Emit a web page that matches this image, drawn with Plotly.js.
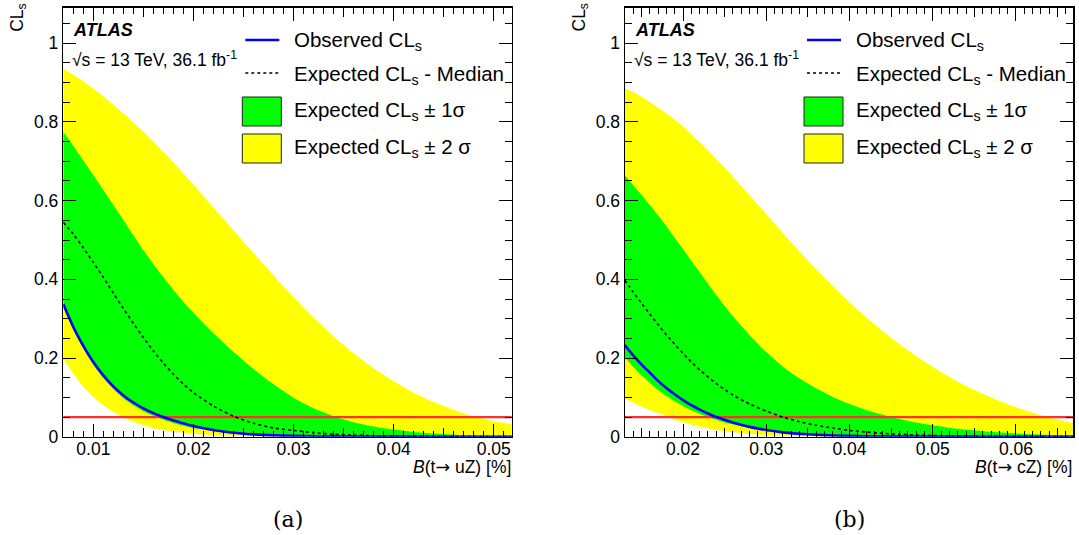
<!DOCTYPE html>
<html><head><meta charset="utf-8">
<script src="https://cdn.plot.ly/plotly-3.0.1.min.js"></script>
<style>html,body{margin:0;padding:0;background:#fff}#chart{width:1079px;height:535px}</style>
</head><body><div id="chart"></div>
<script>
// ---------- Panel (a): B(t -> uZ) ----------
const xA = [0.007,0.008,0.009,0.010,0.011,0.012,0.013,0.014,0.015,0.016,0.017,0.018,0.019,0.020,0.022,0.024,0.026,0.028,0.030,0.032,0.034,0.036,0.038,0.040,0.042,0.044,0.046,0.048,0.050,0.052];
const obsA = [0.337,0.279,0.231,0.190,0.156,0.128,0.105,0.087,0.072,0.060,0.050,0.041,0.034,0.027,0.017,0.010,0.006,0.0035,0.002,0.0012,0.0007,0.0004,0.0002,0.0001,0.0001,0,0,0,0,0];
const medA = [0.545,0.515,0.480,0.443,0.405,0.365,0.326,0.288,0.252,0.218,0.187,0.159,0.134,0.112,0.078,0.052,0.034,0.022,0.016,0.010,0.0065,0.004,0.0025,0.0015,0.0009,0.0005,0.0003,0.0002,0.0001,0.0001];
const s1upA = [0.775,0.739,0.702,0.665,0.627,0.589,0.551,0.512,0.474,0.439,0.405,0.373,0.343,0.315,0.263,0.216,0.172,0.133,0.099,0.072,0.052,0.037,0.026,0.018,0.012,0.008,0.005,0.003,0.002,0.001];
const s1loA = [0.330,0.272,0.224,0.183,0.149,0.121,0.098,0.080,0.065,0.053,0.043,0.035,0.028,0.022,0.014,0.008,0.0045,0.0025,0.0014,0.0008,0.0004,0.0002,0.0001,0,0,0,0,0,0,0];
const s2upA = [0.935,0.920,0.903,0.885,0.865,0.844,0.822,0.799,0.775,0.750,0.724,0.697,0.669,0.641,0.583,0.525,0.467,0.410,0.355,0.303,0.255,0.212,0.174,0.141,0.112,0.088,0.068,0.052,0.039,0.029];
const s2loA = [0.198,0.160,0.127,0.101,0.080,0.063,0.049,0.038,0.029,0.022,0.017,0.013,0.010,0.0075,0.004,0.002,0.001,0.0005,0.0002,0.0001,0,0,0,0,0,0,0,0,0,0];

// ---------- Panel (b): B(t -> cZ) ----------
const xB = [0.013,0.014,0.015,0.016,0.017,0.018,0.019,0.020,0.021,0.022,0.023,0.024,0.025,0.026,0.028,0.030,0.032,0.034,0.036,0.038,0.040,0.042,0.044,0.046,0.048,0.050,0.052,0.054,0.056,0.058,0.060,0.062,0.064,0.066,0.067];
const obsB = [0.233,0.207,0.184,0.163,0.142,0.124,0.108,0.093,0.080,0.069,0.059,0.050,0.043,0.036,0.025,0.017,0.011,0.0075,0.005,0.0032,0.002,0.0013,0.0008,0.0005,0.0003,0.0002,0.0001,0.0001,0,0,0,0,0,0,0];
const medB = [0.398,0.368,0.340,0.312,0.285,0.259,0.235,0.212,0.190,0.170,0.152,0.135,0.120,0.106,0.083,0.065,0.050,0.038,0.029,0.022,0.016,0.012,0.0085,0.006,0.0042,0.003,0.002,0.0014,0.001,0.0007,0.0005,0.0003,0.0002,0.0001,0.0001];
const s1upB = [0.665,0.640,0.615,0.589,0.563,0.535,0.506,0.477,0.447,0.418,0.389,0.360,0.332,0.306,0.258,0.215,0.178,0.148,0.123,0.101,0.083,0.068,0.056,0.045,0.036,0.029,0.023,0.018,0.014,0.011,0.008,0.006,0.0045,0.0033,0.003];
const s1loB = [0.203,0.178,0.156,0.137,0.119,0.104,0.090,0.078,0.067,0.058,0.050,0.043,0.036,0.031,0.022,0.015,0.010,0.007,0.0045,0.003,0.002,0.0013,0.0008,0.0005,0.0003,0.0002,0.0001,0,0,0,0,0,0,0,0];
const s2upB = [0.886,0.876,0.864,0.851,0.837,0.822,0.806,0.788,0.769,0.749,0.728,0.706,0.684,0.661,0.614,0.566,0.518,0.471,0.426,0.383,0.342,0.304,0.268,0.235,0.205,0.177,0.152,0.129,0.109,0.091,0.075,0.061,0.049,0.038,0.033];
const s2loB = [0.097,0.087,0.077,0.068,0.060,0.052,0.044,0.037,0.031,0.026,0.021,0.017,0.014,0.011,0.007,0.004,0.0025,0.0015,0.001,0.0006,0.0004,0.0002,0.0001,0,0,0,0,0,0,0,0,0,0,0,0];

const cl95 = 0.05;
const xRangeA = [0.007, 0.0518];
const xRangeB = [0.01303, 0.06685];
const yRange = [0, 1.09];

const ARROW = '<span style="font-family:DejaVu Sans">\u2192</span>';
const panelTitles = ["<i>B</i>(t" + ARROW + " uZ) [%]", "<i>B</i>(t" + ARROW + " cZ) [%]"];
const captions = ["(a)", "(b)"];
const legendLabels = ["Observed CL<sub>s</sub>", "Expected CL<sub>s</sub> - Median", "Expected CL<sub>s</sub> \u00b1 1\u03c3", "Expected CL<sub>s</sub> \u00b1 2 \u03c3"];

const W = 1079, H = 535;
const P = px => px / W;
const Q = py => 1 - py / H;
const FONT = "Liberation Sans, Arial, Helvetica, sans-serif";
const YEL = "#ffff00", GRN = "#00ff00", BLU = "#0000ff", RED = "#ff3030";

function band(x, up, lo, color, xa, ya) {
  return {x: x.concat(x.slice().reverse()), y: up.concat(lo.slice().reverse()),
    mode: "lines", fill: "toself", fillcolor: color, line: {color: "rgba(0,0,0,0)", width: 0, shape: "spline", smoothing: 0.5},
    xaxis: xa, yaxis: ya, hoverinfo: "skip", showlegend: false};
}
function line(x, y, color, width, dash, xa, ya) {
  return {x: x, y: y, mode: "lines", line: {color: color, width: width, dash: dash, shape: "spline", smoothing: 0.6},
    xaxis: xa, yaxis: ya, hoverinfo: "skip", showlegend: false};
}

const traces = [];
function panel(x, s2u, s2l, s1u, s1l, med, obs, xa, ya, xov) {
  traces.push(band(x, s2u, s2l, YEL, xa, ya));
  traces.push(band(x, s1u, s1l, GRN, xa, ya));
  traces.push({x: [x[0], x[x.length - 1]], y: [cl95, cl95], mode: "lines", line: {color: RED, width: 2.2},
    xaxis: xa, yaxis: ya, hoverinfo: "skip", showlegend: false});
  traces.push(line(x, med, "#000", 1.6, "dot", xa, ya));
  traces.push(line(x, obs, BLU, 2.6, "solid", xa, ya));
  traces.push({x: [null], y: [null], mode: "lines", xaxis: xov, yaxis: ya, hoverinfo: "skip", showlegend: false});
}
panel(xA, s2upA, s2loA, s1upA, s1loA, medA, obsA, "x", "y", "x3");
panel(xB, s2upB, s2loB, s1upB, s1loB, medB, obsB, "x2", "y2", "x4");

const frames = [[63.3, 511.7], [625, 1073]];
const yDom = [Q(436.7), Q(436.7 - 393.4 * yRange[1])];

function xAxis(dom, range, anchor) {
  return {domain: dom, range: range, anchor: anchor, showgrid: false, zeroline: false,
    showline: true, linecolor: "#000", linewidth: 1.5, mirror: "ticks",
    ticks: "inside", ticklen: 13, tickwidth: 1, tickcolor: "#000", tick0: 0, dtick: 0.01,
    minor: {ticks: "inside", ticklen: 6, tickwidth: 1, tickcolor: "#000", dtick: 0.001, tick0: 0},
    ticklabelstandoff: -4,
    tickfont: {family: FONT, size: 17.5, color: "#000"}, fixedrange: true};
}
function yAxis(anchor) {
  return {domain: yDom, range: yRange, anchor: anchor, showgrid: false, zeroline: false,
    showline: true, linecolor: "#000", linewidth: 1.5, mirror: "ticks",
    ticks: "inside", ticklen: 13, tickwidth: 1, tickcolor: "#000", tick0: 0, dtick: 0.2,
    minor: {ticks: "inside", ticklen: 7, tickwidth: 1, tickcolor: "#000", dtick: 0.05, tick0: 0},
    tickfont: {family: FONT, size: 17.5, color: "#000"}, fixedrange: true};
}
function midAxis(over, dom, range, anchor) {
  return {overlaying: over, domain: dom, range: range, anchor: anchor, showgrid: false, zeroline: false,
    showline: false, mirror: "ticks", ticks: "inside", ticklen: 9, tickwidth: 1, tickcolor: "#000",
    tickmode: "linear", tick0: 0.005, dtick: 0.01, showticklabels: false, fixedrange: true};
}

const annotations = [], shapes = [];
frames.forEach((f, i) => {
  const L = f[0], R = f[1];
  annotations.push({xref: "paper", yref: "paper", x: P(L + 8), y: Q(30), xanchor: "left", yanchor: "middle",
    text: "<b><i>ATLAS</i></b>", showarrow: false, font: {family: FONT, size: 18, color: "#000"}});
  annotations.push({xref: "paper", yref: "paper", x: P(L + 7), y: Q(59), xanchor: "left", yanchor: "middle",
    text: "\u221as = 13 TeV, 36.1 fb<sup>-1</sup>", showarrow: false, font: {family: FONT, size: 17.5, color: "#000"}});
  annotations.push({xref: "paper", yref: "paper", x: P(R + 1), y: Q(467), xanchor: "right", yanchor: "middle",
    text: panelTitles[i], showarrow: false, font: {family: FONT, size: 17.5, color: "#000"}});
  annotations.push({xref: "paper", yref: "paper", x: P(L - 45), y: Q(1), xanchor: "center", yanchor: "top",
    text: "CL<sub>s</sub>", textangle: -90, showarrow: false, font: {family: FONT, size: 17.5, color: "#000"}});
  annotations.push({xref: "paper", yref: "paper", x: P((L + R) / 2), y: Q(519), xanchor: "center", yanchor: "middle",
    text: captions[i], showarrow: false, font: {family: "DejaVu Serif, serif", size: 22, color: "#000"}});
  // legend
  const rows = [41, 75, 111, 148];
  rows.forEach((ry, k) => {
    annotations.push({xref: "paper", yref: "paper", x: P(L + 229), y: Q(ry), xanchor: "left", yanchor: "middle",
      text: legendLabels[k], showarrow: false, font: {family: FONT, size: 20.5, color: "#000"}});
  });
  shapes.push({type: "line", xref: "paper", yref: "paper", x0: P(L + 182), x1: P(L + 216), y0: Q(40), y1: Q(40),
    line: {color: BLU, width: 2.6}});
  shapes.push({type: "line", xref: "paper", yref: "paper", x0: P(L + 182), x1: P(L + 216), y0: Q(73), y1: Q(73),
    line: {color: "#000", width: 1.6, dash: "dot"}});
  shapes.push({type: "rect", xref: "paper", yref: "paper", x0: P(L + 179), x1: P(L + 218), y0: Q(97), y1: Q(126),
    fillcolor: GRN, line: {color: "#222", width: 1}});
  shapes.push({type: "rect", xref: "paper", yref: "paper", x0: P(L + 179), x1: P(L + 218), y0: Q(134), y1: Q(163),
    fillcolor: YEL, line: {color: "#222", width: 1}});
});

const layout = {
  width: W, height: H, margin: {l: 0, r: 0, t: 0, b: 0, pad: 0},
  paper_bgcolor: "#fff", plot_bgcolor: "#fff", showlegend: false,
  font: {family: FONT, color: "#000"},
  xaxis: xAxis([P(frames[0][0]), P(frames[0][1])], xRangeA, "y"),
  yaxis: yAxis("x"),
  xaxis2: xAxis([P(frames[1][0]), P(frames[1][1])], xRangeB, "y2"),
  yaxis2: yAxis("x2"),
  xaxis3: midAxis("x", [P(frames[0][0]), P(frames[0][1])], xRangeA, "y"),
  xaxis4: midAxis("x2", [P(frames[1][0]), P(frames[1][1])], xRangeB, "y2"),
  annotations: annotations, shapes: shapes
};
Plotly.newPlot("chart", traces, layout, {displayModeBar: false, staticPlot: true});
</script></body></html>
